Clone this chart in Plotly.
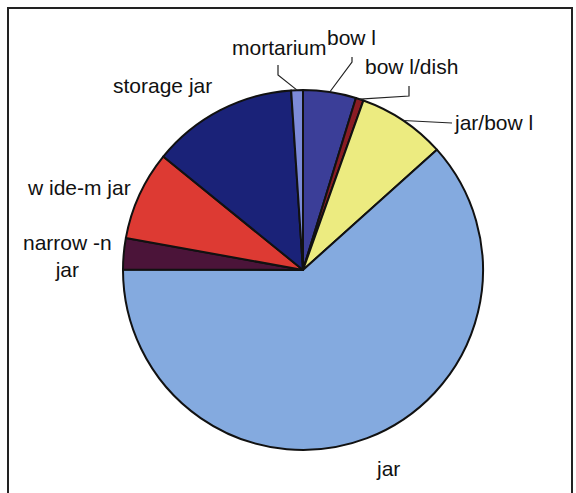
import math
import plotly.graph_objects as go

# ---- data (clockwise from 12 o'clock) ----
labels = ["bow l", "bow l/dish", "jar/bow l", "jar", "narrow -n<br>jar",
          "w ide-m jar", "storage jar", "mortarium"]
values = [4.75, 0.7, 7.9, 61.7, 2.8, 8.0, 13.1, 1.05]
colors = ["#3B3E98", "#8A1C24", "#ECEB80", "#84AADF", "#4B1439",
          "#DD3A33", "#1A2278", "#7C8AD8"]

# label placement (pixel centres) and leader-line bends (style/layout)
label_pos = {
    "bow l": (351, 37),
    "bow l/dish": (411, 67),
    "jar/bow l": (493, 123),
    "jar": (388, 468),
    "narrow -n<br>jar": (67, 256),
    "w ide-m jar": (79, 187),
    "storage jar": (162, 85),
    "mortarium": (279, 47),
}
leader_bends = {
    "bow l": [(352, 57), (352, 62)],
    "bow l/dish": [(409, 86), (409, 96)],
    "jar/bow l": [(452, 123)],
    "mortarium": [(278, 65), (278, 75)],
}

W, H = 576, 493
CX, CY, R = 303, 270, 180

def px(x):
    return x / W

def py(y):
    return 1 - y / H

fig = go.Figure(go.Pie(
    labels=labels, values=values, sort=False, direction="clockwise",
    rotation=0, textinfo="none", hoverinfo="label+percent",
    marker=dict(colors=colors, line=dict(color="#111111", width=2)),
    domain=dict(x=[px(CX - R), px(CX + R)], y=[py(CY + R), py(CY - R)]),
    showlegend=False,
))

annotations = []
for lab in labels:
    x, y = label_pos[lab]
    annotations.append(dict(
        x=px(x), y=py(y), xref="paper", yref="paper", text=lab,
        showarrow=False, xanchor="center", yanchor="middle",
        font=dict(family="Arial, Liberation Sans, sans-serif", size=21,
                  color="#111111"),
    ))

# leader lines: from label bend to slice edge at mid-angle (computed from data)
total = sum(values)
shapes = []
cum = 0.0
for lab, v in zip(labels, values):
    mid = (cum + v / 2) / total * 2 * math.pi
    cum += v
    if lab not in leader_bends:
        continue
    ex = CX + R * math.sin(mid)
    ey = CY - R * math.cos(mid)
    pts = leader_bends[lab] + [(ex, ey)]
    path = "M " + " L ".join(f"{px(a):.5f},{py(b):.5f}" for a, b in pts)
    shapes.append(dict(type="path", path=path, xref="paper", yref="paper",
                       line=dict(color="#222222", width=1.2)))

# outer frame
shapes.append(dict(type="rect", xref="paper", yref="paper",
                   x0=px(8), x1=px(572), y0=py(505), y1=py(8),
                   line=dict(color="#222222", width=2)))

fig.update_layout(
    width=W, height=H, margin=dict(l=0, r=0, t=0, b=0),
    paper_bgcolor="white", plot_bgcolor="white",
    annotations=annotations, shapes=shapes,
)

fig.write_html("out.html")
